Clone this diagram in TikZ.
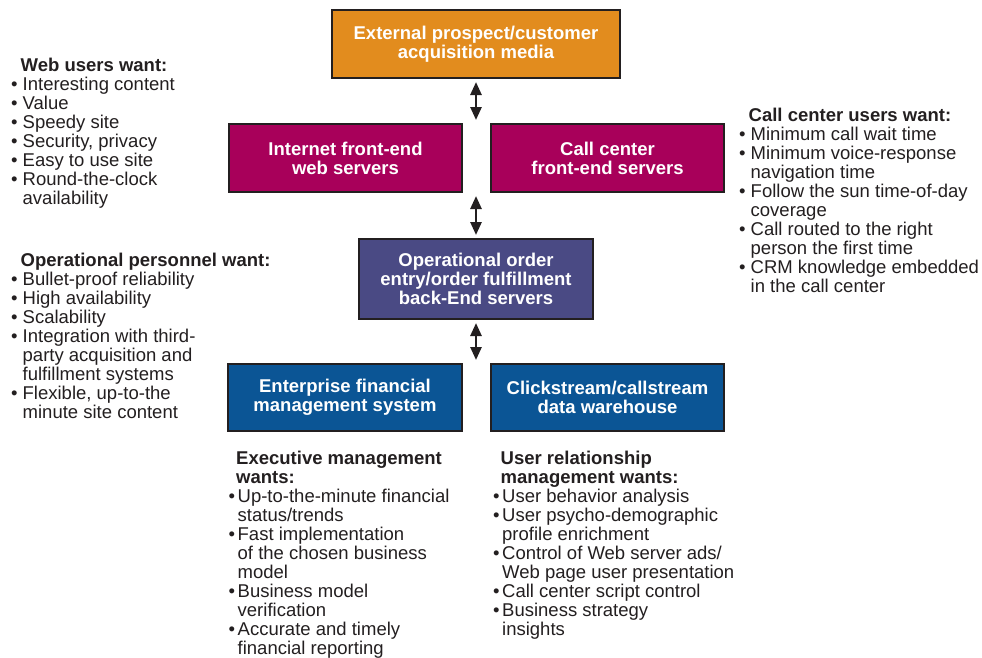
\documentclass[tikz,border=0pt]{standalone}
\usepackage{fontspec}
\setmainfont{Liberation Sans}
\usetikzlibrary{arrows.meta}
\definecolor{bordc}{HTML}{231F20}
\definecolor{orangeb}{HTML}{E28C1E}
\definecolor{crimsonb}{HTML}{A8005A}
\definecolor{purpleb}{HTML}{4A4A84}
\definecolor{blueb}{HTML}{0B5595}
\definecolor{txt}{HTML}{231F20}
\newlength{\bulw}
\newlength{\hdw}
\newcommand{\itm}[1]{\makebox[\bulw][l]{\textbullet}#1}
\newcommand{\cnt}[1]{\hspace*{\bulw}#1}
\newcommand{\hdg}[1]{\hspace*{\hdw}\textbf{#1}}
\tikzset{
  sysbox/.style={draw=bordc, line width=2pt, text=white,
    font=\fontsize{18.5}{19}\selectfont\bfseries, align=center, inner sep=0pt},
  upperlist/.style={anchor=north west, inner sep=0pt, align=left, text=txt,
    font=\fontsize{18.5}{19}\selectfont\setlength{\bulw}{11.5pt}\setlength{\hdw}{9.5pt}},
  lowerlist/.style={anchor=north west, inner sep=0pt, align=left, text=txt,
    font=\fontsize{18.5}{19}\selectfont\setlength{\bulw}{9pt}\setlength{\hdw}{7.5pt}},
  dbl/.style={{Triangle[length=13pt,width=11pt]}-{Triangle[length=13pt,width=11pt]},
    line width=2.6pt, draw=bordc, shorten <=3pt, shorten >=3pt}
}
\begin{document}
\begin{tikzpicture}[x=1pt,y=-1pt]
\useasboundingbox[fill=white] (0,0) rectangle (982,657);

% system boxes
\node[sysbox, fill=orangeb, minimum width=288pt, minimum height=68pt] (ext) at (476,44)
  {External prospect/customer\\acquisition media};
\node[sysbox, fill=crimsonb, minimum width=233pt, minimum height=68pt] (web) at (345.5,158)
  {Internet front-end\\web servers};
\node[sysbox, fill=crimsonb, minimum width=233pt, minimum height=68pt] (call) at (607.5,158)
  {Call center\\front-end servers};
\node[sysbox, fill=purpleb, minimum width=234pt, minimum height=80pt] (ops) at (476,279)
  {Operational order\\entry/order fulfillment\\back-End servers};
\node[sysbox, fill=blueb, minimum width=234pt, minimum height=67pt] (ent) at (345,397.5)
  {Enterprise financial\\management system};
\node[sysbox, fill=blueb, minimum width=233pt, minimum height=67pt] (dw) at (607.5,397.5)
  {Clickstream/callstream\\data warehouse};

% connectors
\draw[dbl] (ext.south) -- (ext.south |- web.north);
\draw[dbl] (ext.south |- web.south) -- (ops.north);
\draw[dbl] (ops.south) -- (ops.south |- ent.north);

% lists
\node[upperlist] (webusers) at (11,58.3) {%
  \hdg{Web users want:}\\
  \itm{Interesting content}\\
  \itm{Value}\\
  \itm{Speedy site}\\
  \itm{Security, privacy}\\
  \itm{Easy to use site}\\
  \itm{Round-the-clock}\\
  \cnt{availability}};

\node[upperlist] (opers) at (11,253) {%
  \hdg{Operational personnel want:}\\
  \itm{Bullet-proof reliability}\\
  \itm{High availability}\\
  \itm{Scalability}\\
  \itm{Integration with third-}\\
  \cnt{party acquisition and}\\
  \cnt{fulfillment systems}\\
  \itm{Flexible, up-to-the}\\
  \cnt{minute site content}};

\node[upperlist] (callusers) at (739,108.3) {%
  \hdg{Call center users want:}\\
  \itm{Minimum call wait time}\\
  \itm{Minimum voice-response}\\
  \cnt{navigation time}\\
  \itm{Follow the sun time-of-day}\\
  \cnt{coverage}\\
  \itm{Call routed to the right}\\
  \cnt{person the first time}\\
  \itm{CRM knowledge embedded}\\
  \cnt{in the call center}};

\node[lowerlist] (exec) at (228.5,451) {%
  \hdg{Executive management}\\
  \hdg{wants:}\\
  \itm{Up-to-the-minute financial}\\
  \cnt{status/trends}\\
  \itm{Fast implementation}\\
  \cnt{of the chosen business}\\
  \cnt{model}\\
  \itm{Business model}\\
  \cnt{verification}\\
  \itm{Accurate and timely}\\
  \cnt{financial reporting}};

\node[lowerlist] (urm) at (493,451) {%
  \hdg{User relationship}\\
  \hdg{management wants:}\\
  \itm{User behavior analysis}\\
  \itm{User psycho-demographic}\\
  \cnt{profile enrichment}\\
  \itm{Control of Web server ads/}\\
  \cnt{Web page user presentation}\\
  \itm{Call center script control}\\
  \itm{Business strategy}\\
  \cnt{insights}};
\end{tikzpicture}
\end{document}
